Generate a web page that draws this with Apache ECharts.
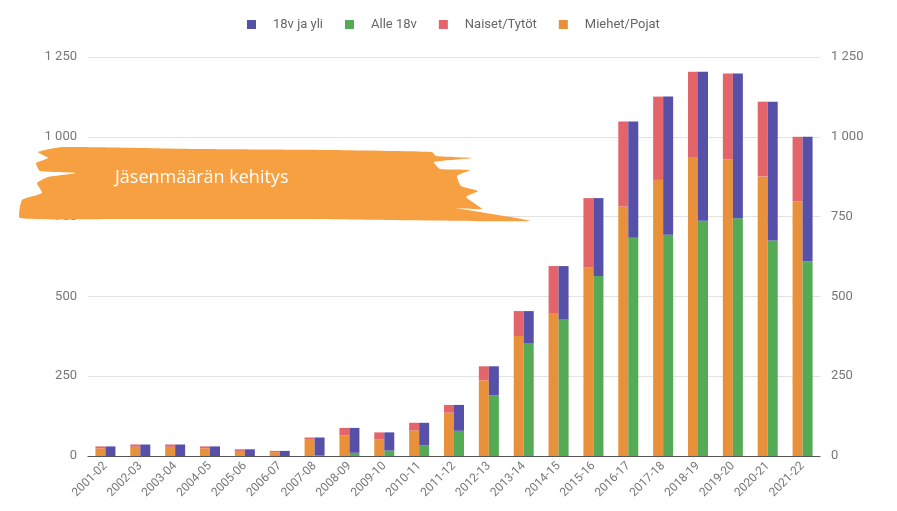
<!DOCTYPE html>
<html>
<head>
<meta charset="utf-8">
<script src="https://cdn.jsdelivr.net/npm/echarts@6/dist/echarts.min.js"></script>
<style>
  html, body { margin: 0; padding: 0; background: #fff; }
  #chart { width: 897px; height: 511px; }
</style>
</head>
<body>
<div id="chart"></div>
<script>
  // kaudet
  var seasons = ['2001-02', '2002-03', '2003-04', '2004-05', '2005-06', '2006-07', '2007-08',
    '2008-09', '2009-10', '2010-11', '2011-12', '2012-13', '2013-14', '2014-15', '2015-16',
    '2016-17', '2017-18', '2018-19', '2019-20', '2020-21', '2021-22'];
  var miehet = [24, 29, 29, 24, 16, 12, 51, 64, 53, 80, 136, 237, 376, 448, 590, 782, 865, 937, 930, 876, 798];
  var naiset = [6, 7, 7, 6, 5, 4, 7, 24, 21, 24, 24, 44, 78, 147, 218, 266, 261, 267, 268, 234, 202];
  var alle18 = [0, 0, 0, 0, 0, 0, 3, 10, 17, 33, 79, 190, 354, 427, 564, 684, 693, 737, 745, 675, 610];
  var yli18 = [30, 36, 36, 30, 21, 16, 55, 78, 57, 71, 81, 91, 100, 168, 244, 364, 433, 467, 453, 435, 390];
  var yTicks = [0, 250, 500, 750, 1000, 1250];

  var chart = echarts.init(document.getElementById('chart'));

  function fmt(v) {
    return String(v).replace(/\B(?=(\d{3})+(?!\d))/g, ' ');
  }

  var valueAxis = function (pos) {
    return {
      type: 'value',
      position: pos,
      min: yTicks[0],
      max: yTicks[yTicks.length - 1],
      interval: 250,
      axisLine: { show: false },
      axisTick: { show: false },
      axisLabel: { color: '#777', fontSize: 13, fontFamily: 'Roboto', margin: 11, formatter: fmt },
      splitLine: { show: pos === 'left', lineStyle: { color: '#e2e2e2', width: 1 } }
    };
  };

  var bar = function (name, stack, data, color) {
    return {
      name: name,
      type: 'bar',
      stack: stack,
      data: data,
      barWidth: 10,
      barGap: '0%',
      itemStyle: { color: color },
      emphasis: { disabled: true }
    };
  };

  // sivellinveto otsikon taakse
  var brush = [
    [38, 152], [62, 147], [200, 149], [330, 150], [432, 152], [436, 156], [472, 158],
    [434, 162], [440, 169], [470, 170], [457, 176], [461, 186], [478, 191], [466, 197],
    [482, 209], [456, 208], [530, 221], [300, 219], [120, 219], [20, 218], [22, 200],
    [42, 193], [37, 183], [48, 177], [76, 173], [40, 171], [36, 163], [48, 158]
  ];

  chart.setOption({
    animation: false,
    legend: {
      data: ['18v ja yli', 'Alle 18v', 'Naiset/Tytöt', 'Miehet/Pojat'],
      top: 13,
      left: 242,
      itemWidth: 9,
      itemHeight: 9,
      itemGap: 22,
      icon: 'rect',
      textStyle: { color: '#666', fontSize: 13, fontFamily: 'Roboto', padding: [0, 0, 0, 12] }
    },
    grid: { left: 88, right: 77, top: 57, bottom: 55 },
    xAxis: {
      type: 'category',
      data: seasons,
      axisLine: { lineStyle: { color: '#555', width: 1 } },
      axisTick: { show: false },
      axisLabel: { rotate: 45, color: '#777', fontSize: 12, fontFamily: 'Roboto', margin: 8, interval: 0 }
    },
    yAxis: [valueAxis('left'), valueAxis('right')],
    series: [
      bar('Miehet/Pojat', 'sukupuoli', miehet, '#e8913a'),
      bar('Naiset/Tytöt', 'sukupuoli', naiset, '#e36469'),
      bar('Alle 18v', 'ika', alle18, '#55aa56'),
      bar('18v ja yli', 'ika', yli18, '#5650a8')
    ],
    graphic: [
      {
        type: 'polygon',
        z: 100,
        shape: { points: brush, smooth: 0.15 },
        style: { fill: '#f7a041' }
      },
      {
        type: 'text',
        z: 101,
        left: 115,
        top: 169,
        style: {
          text: 'Jäsenmäärän kehitys',
          fill: '#fff',
          font: '18px "Open Sans"'
        }
      }
    ]
  });
</script>
</body>
</html>
